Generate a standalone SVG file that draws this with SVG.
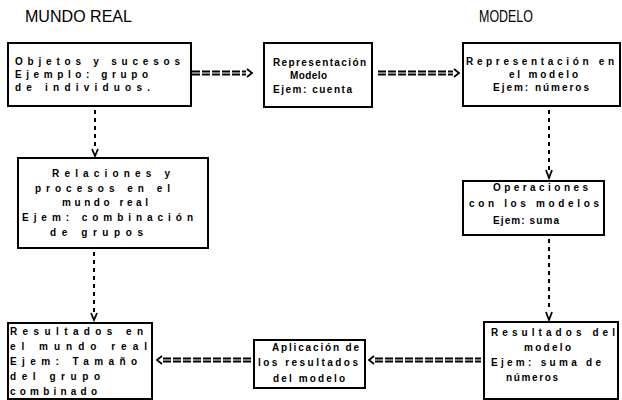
<svg xmlns="http://www.w3.org/2000/svg" width="622" height="400" viewBox="0 0 622 400">
<style>
.bg{fill:#ffffff}
.box{fill:#ffffff;stroke:#000;stroke-width:2}
.t{font-family:"Liberation Sans",Arial,sans-serif;font-size:10px;font-weight:bold;fill:#000}
.title{font-family:"Liberation Sans",Arial,sans-serif;font-size:17px;fill:#000}
.band{fill:none;stroke:#000;stroke-width:1.8;stroke-dasharray:8 2}
.vdash{fill:none;stroke:#000;stroke-width:2;stroke-dasharray:4 4}
.head{fill:none;stroke:#000;stroke-width:1.8}
</style>
<rect class="bg" x="0" y="0" width="622" height="400"/>
<text class="title" x="25" y="22" textLength="107" lengthAdjust="spacingAndGlyphs">MUNDO REAL</text>
<text class="title" x="479" y="22" textLength="54" lengthAdjust="spacingAndGlyphs">MODELO</text>

<g id="connectors">
  <path class="band" d="M192,71.5 H246 M192,74.5 H246"/>
  <path class="head" d="M247,69 L252,73 L247,77"/>
  <path class="band" d="M378,71.5 H453 M378,74.5 H453"/>
  <path class="head" d="M454,69 L459,73 L454,77"/>
  <path class="vdash" d="M95,110 V148"/>
  <path class="head" d="M92,149 L95,156 L98,149"/>
  <path class="vdash" d="M549,110 V170"/>
  <path class="head" d="M546,170 L549,178 L552,170"/>
  <path class="vdash" d="M549,239 V311"/>
  <path class="head" d="M546,312 L549,320 L552,312"/>
  <path class="vdash" d="M94,252 V313"/>
  <path class="head" d="M91,313 L94,320 L97,313"/>
  <path class="band" d="M375,358.5 H481 M375,361.5 H481"/>
  <path class="head" d="M374,356 L369,360 L374,364"/>
  <path class="band" d="M163,358.5 H251 M163,361.5 H251"/>
  <path class="head" d="M162,356 L157,360 L162,364"/>
</g>

<g id="n1">
  <rect class="box" x="8" y="43" width="183" height="63"/>
  <text class="t" x="15" y="65" textLength="165" lengthAdjust="spacing">Objetos y sucesos</text>
  <text class="t" x="15" y="78" textLength="133" lengthAdjust="spacing">Ejemplo: grupo</text>
  <text class="t" x="15" y="91" textLength="135" lengthAdjust="spacing">de individuos.</text>
</g>
<g id="n2">
  <rect class="box" x="264" y="43" width="108" height="64"/>
  <text class="t" x="273" y="66" textLength="93" lengthAdjust="spacing">Representación</text>
  <text class="t" x="290" y="79" textLength="37" lengthAdjust="spacing">Modelo</text>
  <text class="t" x="273" y="93" textLength="79" lengthAdjust="spacing">Ejem: cuenta</text>
</g>
<g id="n3">
  <rect class="box" x="463" y="43" width="157" height="63"/>
  <text class="t" x="466" y="65" textLength="148" lengthAdjust="spacing">Representación en</text>
  <text class="t" x="509" y="78" textLength="69" lengthAdjust="spacing">el modelo</text>
  <text class="t" x="493" y="91" textLength="96" lengthAdjust="spacing">Ejem: números</text>
</g>
<g id="n4">
  <rect class="box" x="463" y="181" width="141" height="54"/>
  <text class="t" x="493" y="191" textLength="95" lengthAdjust="spacing">Operaciones</text>
  <text class="t" x="469" y="207" textLength="130" lengthAdjust="spacing">con los modelos</text>
  <text class="t" x="493" y="224" textLength="66" lengthAdjust="spacing">Ejem: suma</text>
</g>
<g id="n5">
  <rect class="box" x="18" y="158" width="190" height="90"/>
  <text class="t" x="52" y="177" textLength="118" lengthAdjust="spacing">Relaciones y</text>
  <text class="t" x="35" y="192" textLength="135" lengthAdjust="spacing">procesos en el</text>
  <text class="t" x="62" y="206" textLength="86" lengthAdjust="spacing">mundo real</text>
  <text class="t" x="22" y="221" textLength="171" lengthAdjust="spacing">Ejem: combinación</text>
  <text class="t" x="50" y="236" textLength="93" lengthAdjust="spacing">de grupos</text>
</g>
<g id="n6">
  <rect class="box" x="484" y="322" width="134" height="77"/>
  <text class="t" x="491" y="336" textLength="124" lengthAdjust="spacing">Resultados del</text>
  <text class="t" x="524" y="351" textLength="47" lengthAdjust="spacing">modelo</text>
  <text class="t" x="491" y="366" textLength="110" lengthAdjust="spacing">Ejem: suma de</text>
  <text class="t" x="506" y="381" textLength="52" lengthAdjust="spacing">números</text>
</g>
<g id="n7">
  <rect class="box" x="254" y="340" width="111" height="48"/>
  <text class="t" x="272" y="351" textLength="87" lengthAdjust="spacing">Aplicación de</text>
  <text class="t" x="258" y="366" textLength="100" lengthAdjust="spacing">los resultados</text>
  <text class="t" x="273" y="382" textLength="72" lengthAdjust="spacing">del modelo</text>
</g>
<g id="n8">
  <rect class="box" x="8" y="323" width="144" height="76"/>
  <text class="t" x="10" y="335" textLength="133" lengthAdjust="spacing">Resultados en</text>
  <text class="t" x="10" y="350" textLength="137" lengthAdjust="spacing">el mundo real</text>
  <text class="t" x="10" y="365" textLength="127" lengthAdjust="spacing">Ejem: Tamaño</text>
  <text class="t" x="10" y="380" textLength="90" lengthAdjust="spacing">del grupo</text>
  <text class="t" x="10" y="395" textLength="87" lengthAdjust="spacing">combinado</text>
</g>
</svg>
